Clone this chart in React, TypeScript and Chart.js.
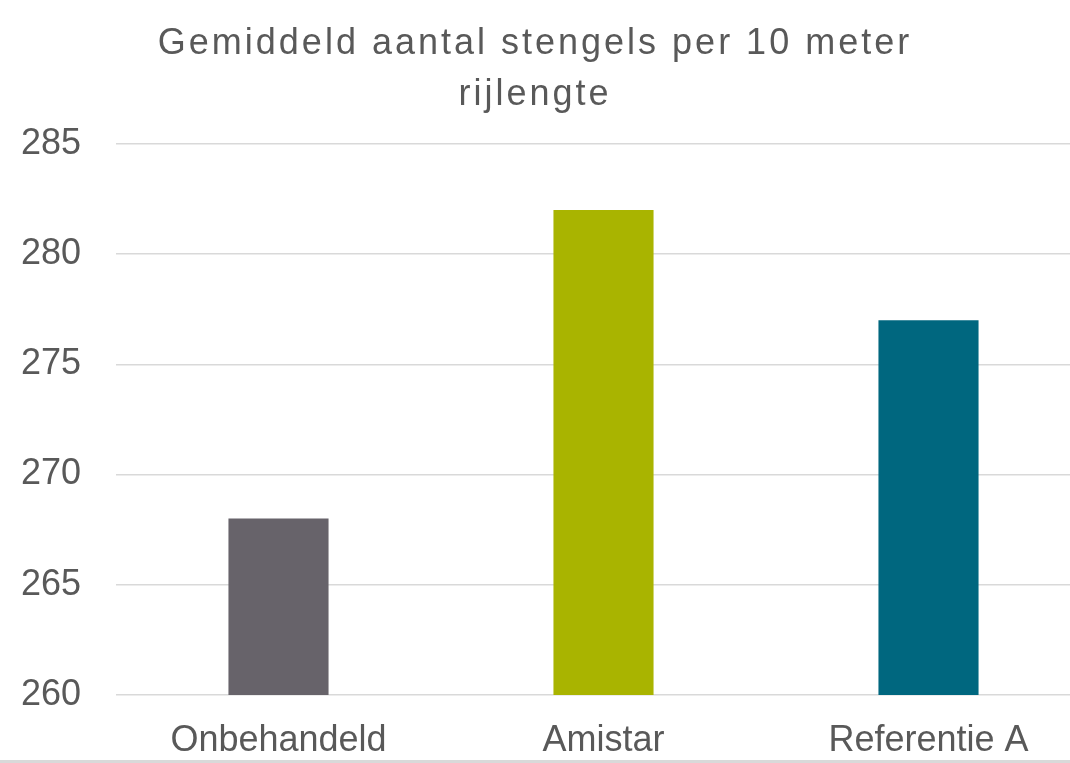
import { useEffect, useRef } from 'react';
import { Chart, registerables } from 'chart.js';

Chart.register(...registerables);

const categories = ['Onbehandeld', 'Amistar', 'Referentie A'];
const stengels = [268, 282, 277];
const barColors = ['#67636A', '#A9B400', '#00677F'];
const titleLines = ['Gemiddeld aantal stengels per 10 meter', 'rijlengte'];

const VIEW_W = 1070;
const FONT = '"Liberation Sans", Arial, sans-serif';
const TEXT = '#595959';

// keep the title centred on the visible part of the (slightly wider) canvas,
// and give it the loose letter spacing of the original
const titleTweak = {
  id: 'titleTweak',
  afterLayout(chart: any) {
    const t = chart.titleBlock;
    if (!t) return;
    t.right = t.left + VIEW_W;
    if (!t._spaced) {
      const orig = t.draw;
      t.draw = function (...args: any[]) {
        const ctx = chart.ctx;
        ctx.save();
        ctx.letterSpacing = '3px';
        orig.apply(this, args);
        ctx.restore();
      };
      t._spaced = true;
    }
  },
};

export default function App() {
  const canvasRef = useRef<HTMLCanvasElement>(null);

  useEffect(() => {
    if (!canvasRef.current) return;
    const chart = new Chart(canvasRef.current, {
      type: 'bar',
      data: {
        labels: categories,
        datasets: [
          {
            label: 'Stengels',
            data: stengels,
            backgroundColor: barColors,
            borderWidth: 0,
            barPercentage: 1,
            categoryPercentage: 0.308,
          },
        ],
      },
      options: {
        animation: false,
        responsive: true,
        maintainAspectRatio: false,
        layout: { padding: 0 },
        plugins: {
          legend: { display: false },
          tooltip: { enabled: false },
          title: {
            display: true,
            text: titleLines,
            color: TEXT,
            font: { family: FONT, size: 36, weight: 'normal', lineHeight: 1.4 },
            padding: { top: 19, bottom: 24 },
          },
        },
        scales: {
          x: {
            afterFit(scale: any) {
              scale.height = 65;
            },
            grid: { display: false },
            border: { display: false },
            ticks: {
              color: TEXT,
              padding: 16,
              maxRotation: 0,
              font: { family: FONT, size: 36, lineHeight: 1.2 },
            },
          },
          y: {
            min: 260,
            max: 285,
            afterFit(scale: any) {
              scale.width = 116;
            },
            grid: { color: '#D9D9D9', lineWidth: 1.5, drawTicks: false },
            border: { display: false },
            ticks: {
              stepSize: 5,
              color: TEXT,
              padding: 35,
              font: { family: FONT, size: 36 },
            },
          },
        },
      },
      plugins: [titleTweak],
    });
    return () => chart.destroy();
  }, []);

  return (
    <div
      style={{
        position: 'fixed',
        left: 0,
        top: 0,
        width: VIEW_W,
        height: 763,
        overflow: 'hidden',
        background: '#fff',
        borderBottom: '3px solid #D9D9D9',
        boxSizing: 'border-box',
      }}
    >
      <div style={{ position: 'relative', width: 1091, height: 760 }}>
        <canvas ref={canvasRef} />
      </div>
    </div>
  );
}
